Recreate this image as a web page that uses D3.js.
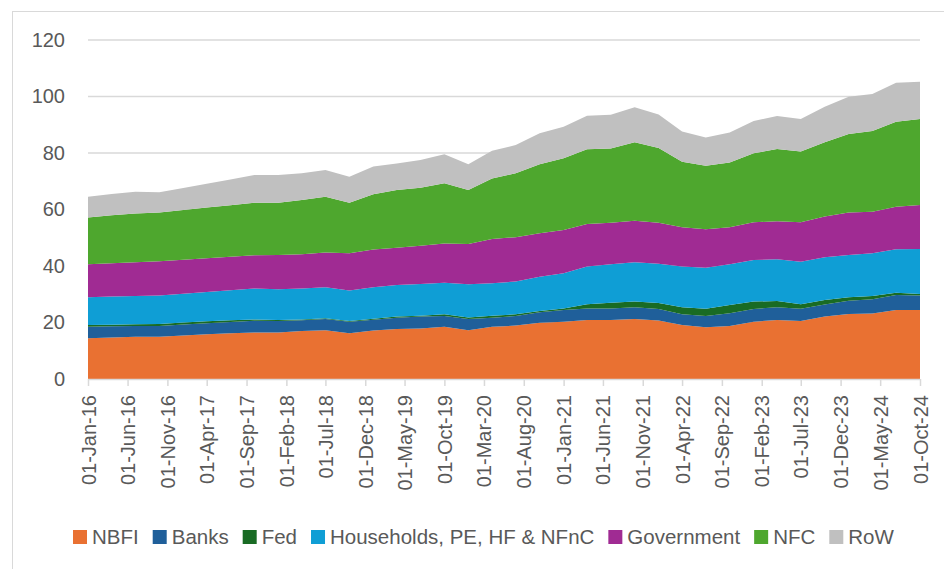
<!DOCTYPE html>
<meta charset="utf-8">
<style>
    body { margin: 0; background: #fff; }
    text { font-family: "Liberation Sans", Arial, sans-serif; fill: #595959; }
    .grid line { stroke: #D9D9D9; stroke-width: 1.3; }
</style>
<body>
<script src="https://cdn.jsdelivr.net/npm/d3@7"></script>
<script>

    // quarterly observations, 2016Q1 .. 2024Q4
    var dates = d3.range(0, 36).map(function(i) { return new Date(2016, i * 3, 1); });

    var series = ["NBFI", "Banks", "Fed", "Households, PE, HF & NFnC", "Government", "NFC", "RoW"];
    var colors = ["#E97132", "#1F5F9A", "#196B24", "#0F9ED5", "#A02B93", "#4EA72E", "#C0C0C0"];

    var nbfi = [14.4,14.7,15.0,15.0,15.4,15.8,16.2,16.5,16.5,17.0,17.3,16.2,17.2,17.7,17.9,18.5,17.3,18.5,
                18.9,19.9,20.3,20.9,20.9,21.2,20.7,19.1,18.3,18.8,20.3,20.9,20.5,22.1,23.0,23.2,24.4,24.4];
    var banks = [4.1,4.0,3.8,3.8,3.9,3.9,4.0,4.1,4.0,3.8,3.9,4.1,3.8,4.0,4.2,3.8,3.9,3.2,
                 3.4,3.7,4.1,4.1,4.1,4.2,4.1,3.8,4.0,4.5,4.5,4.5,4.4,4.3,4.7,5.0,5.3,5.2];
    var fed = [0.6,0.5,0.6,0.7,0.7,0.7,0.6,0.5,0.4,0.3,0.3,0.2,0.3,0.4,0.3,0.6,0.6,0.7,
               0.6,0.5,0.6,1.5,2.0,2.0,2.1,2.5,2.6,2.9,2.6,2.2,1.6,1.6,1.2,1.2,0.8,0.5];
    var households = [9.8,10.0,10.0,10.1,10.2,10.4,10.6,10.9,10.9,10.9,11.0,10.8,11.2,11.2,11.2,11.2,11.7,11.5,
                      11.6,12.1,12.4,13.3,13.6,13.9,13.9,14.4,14.5,14.4,14.7,14.8,15.0,15.1,15.0,15.1,15.4,15.9];
    var government = [11.7,11.8,11.9,12.1,12.0,11.9,11.9,11.8,12.1,12.2,12.3,13.2,13.3,13.2,13.6,13.9,14.3,15.7,
                      15.7,15.4,15.3,15.1,14.7,14.7,14.5,13.9,13.6,13.1,13.4,13.4,14.0,14.4,15.0,14.7,15.1,15.6];
    var nfc = [16.6,17.0,17.3,17.2,17.6,18.0,18.2,18.6,18.5,19.2,19.7,17.9,19.6,20.4,20.5,21.3,19.1,21.4,
               22.6,24.4,25.4,26.4,26.3,27.8,26.5,23.2,22.5,22.9,24.4,25.6,25.0,26.3,27.8,28.6,30.1,30.4];
    var row = [7.3,7.5,7.7,7.2,7.8,8.4,9.1,9.8,9.8,9.4,9.5,9.2,9.8,9.4,9.8,10.3,9.1,9.8,
               10.0,11.0,11.2,11.9,11.9,12.4,11.8,10.7,10.0,10.7,11.4,11.7,11.5,12.6,13.2,13.1,13.8,13.2];

    var yTicks = [0, 20, 40, 60, 80, 100, 120];
    // axis labels every 5 months, Jan-16 .. Oct-24
    var xTicks = d3.range(0, 22).map(function(i) { return new Date(2016, i * 5, 1); });

    var values = [nbfi, banks, fed, households, government, nfc, row];
    var table = dates.map(function(d, i) {
        var o = {date: d};
        series.forEach(function(s, k) { o[s] = values[k][i]; });
        return o;
    });

    var W = 944, H = 569;
    var svg = d3.select("body").append("svg")
            .attr("width", W)
            .attr("height", H);

    svg.append("rect")
            .attr("x", 12.5).attr("y", 11.5)
            .attr("width", W).attr("height", H)
            .attr("fill", "none")
            .attr("stroke", "#D9D9D9");

    var x = d3.scaleTime()
            .domain([dates[0], dates[dates.length - 1]])
            .range([88, 920]);

    var y = d3.scaleLinear()
            .domain([0, 120])
            .range([379, 40]);

    svg.append("g").attr("class", "grid")
            .selectAll("line").data(yTicks.slice(1)).enter()
            .append("line")
            .attr("x1", 88).attr("x2", 920)
            .attr("y1", function(d) { return y(d); })
            .attr("y2", function(d) { return y(d); });

    var stack = d3.stack().keys(series);
    var layers = stack(table);

    var area = d3.area()
            .x(function(d) { return x(d.data.date); })
            .y0(function(d) { return y(d[0]); })
            .y1(function(d) { return y(d[1]); });

    svg.selectAll("path.layer").data(layers).enter()
            .append("path")
            .attr("class", "layer")
            .attr("fill", function(d, i) { return colors[i]; })
            .attr("d", area);

    // y axis labels
    svg.append("g")
            .attr("transform", "translate(65,0)")
            .call(d3.axisLeft(y).tickValues(yTicks).tickSize(0).tickPadding(0))
            .call(function(g) { g.select(".domain").remove(); })
            .selectAll("text")
            .style("font-size", "20px")
            .attr("fill", "#595959");

    // x axis
    var xAxis = svg.append("g")
            .attr("transform", "translate(0,379)")
            .call(d3.axisBottom(x).tickValues(xTicks).tickSize(7).tickFormat(d3.timeFormat("%d-%b-%y")));

    xAxis.select(".domain").attr("stroke", "#D9D9D9").attr("stroke-width", 1.5).attr("d", "M88,0.5H920");
    xAxis.selectAll(".tick line").attr("stroke", "#D9D9D9").attr("stroke-width", 1.5);
    xAxis.selectAll(".tick text")
            .style("font-size", "20px")
            .attr("fill", "#595959")
            .attr("transform", "rotate(-90)")
            .attr("text-anchor", "end")
            .attr("x", -16)
            .attr("y", 0)
            .attr("dy", "0.35em");

    // legend
    var legend = svg.append("g");
    var lx = 73;
    series.forEach(function(s, i) {
        legend.append("rect")
                .attr("x", lx).attr("y", 530)
                .attr("width", 14).attr("height", 14)
                .attr("fill", colors[i]);
        var t = legend.append("text")
                .attr("x", lx + 19).attr("y", 544)
                .style("font-size", "20.5px")
                .text(s);
        lx += 19 + t.node().getComputedTextLength() + 14;
    });

</script>
